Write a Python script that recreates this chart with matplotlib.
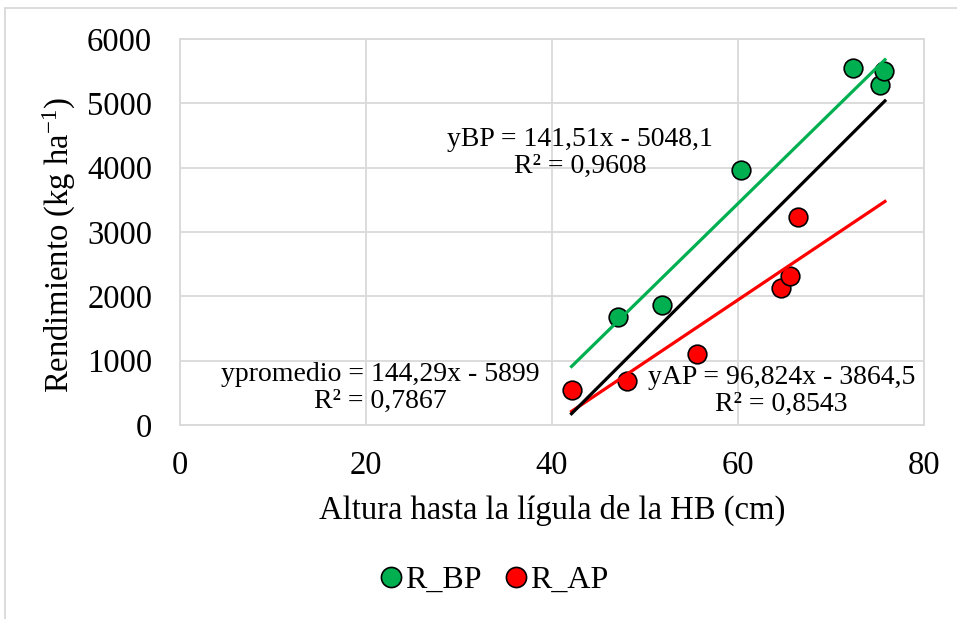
import numpy as np
import matplotlib
matplotlib.use("Agg")
import matplotlib.pyplot as plt
from matplotlib.lines import Line2D

plt.rcParams['font.family'] = ['Liberation Serif', 'DejaVu Serif']
plt.rcParams['mathtext.fontset'] = 'custom'
plt.rcParams['mathtext.rm'] = 'Liberation Serif'
plt.rcParams['mathtext.it'] = 'Liberation Serif:italic'

# datos
x_bp = [47.1, 51.8, 60.3, 72.4, 75.3, 75.7]
y_bp = [1683, 1865, 3964, 5545, 5285, 5508]
x_ap = [42.1, 48.1, 55.6, 64.6, 65.6, 66.5]
y_ap = [544, 689, 1104, 2125, 2316, 3238]

# lineas de tendencia (pendiente, intercepto)
trend_bp = [141.51, -5048.1]
trend_ap = [96.824, -3864.5]
trend_prom = [144.29, -5899]

labels = ['R_BP', 'R_AP']
green = '#00B050'
red = '#FF0000'
grid_c = '#D9D9D9'

fig = plt.figure(figsize=(9.57, 6.19), dpi=100)
ax = fig.add_axes([180/957, 1-425/619, 744/957, 386/619])

xs = np.array([min(x_bp + x_ap), max(x_bp + x_ap) + 0.1])
ax.plot(xs, trend_bp[0]*xs + trend_bp[1], color=green, lw=2.3, zorder=4)
ax.plot(xs, trend_ap[0]*xs + trend_ap[1], color=red, lw=2.3, zorder=4)
ax.plot(xs, trend_prom[0]*xs + trend_prom[1], color='black', lw=2.3, zorder=4)

ax.scatter(x_bp, y_bp, s=180, color=green, edgecolor='black', linewidth=1.2, zorder=3)
ax.scatter(x_ap, y_ap, s=180, color=red, edgecolor='black', linewidth=1.2, zorder=3)

ax.set_xlim(0, 80)
ax.set_ylim(0, 6000)
ax.set_xticks([0, 20, 40, 60, 80])
ax.set_yticks(range(0, 6001, 1000))
ax.grid(True, color=grid_c, lw=1.3)
ax.set_axisbelow(True)
for s in ax.spines.values():
    s.set_color(grid_c)
    s.set_linewidth(1.3)
ax.tick_params(length=0, labelsize=23.5, colors='black')
ax.tick_params(axis='x', pad=18)
ax.tick_params(axis='y', pad=20)

ax.set_xlabel('Altura hasta la lígula de la HB (cm)', fontsize=23.5, labelpad=10)
ax.set_ylabel('Rendimiento (kg ha$^{\\mathregular{-1}}$)', fontsize=23.5)
ax.yaxis.set_label_coords(-0.137, 0.466)

ax.text(43.0, 4236, 'yBP = 141,51x - 5048,1\nR² = 0,9608', fontsize=20,
        ha='center', va='center', multialignment='center', linespacing=1.1, zorder=5)
ax.text(21.5, 583, 'ypromedio = 144,29x - 5899\nR² = 0,7867', fontsize=20,
        ha='center', va='center', multialignment='center', linespacing=1.1, zorder=5)
ax.text(64.7, 528, 'yAP = 96,824x - 3864,5\nR² = 0,8543', fontsize=20,
        ha='center', va='center', multialignment='center', linespacing=1.1, zorder=5)

handles = [Line2D([], [], ls='', marker='o', ms=14.5, mfc=green, mec='black', mew=1.2),
           Line2D([], [], ls='', marker='o', ms=14.5, mfc=red, mec='black', mew=1.2)]
fig.legend(handles, labels, loc='center', bbox_to_anchor=(495/957, 1-580/619), ncol=2,
           frameon=False, fontsize=23, handlelength=0.6, handletextpad=0.12,
           columnspacing=0.8)

# borde del area del grafico
fig.add_artist(Line2D([5/957, 1], [1-8/619, 1-8/619], color=grid_c, lw=1.3))
fig.add_artist(Line2D([5/957, 5/957], [0, 1-8/619], color=grid_c, lw=1.3))

fig.savefig('out.png', dpi=100)
